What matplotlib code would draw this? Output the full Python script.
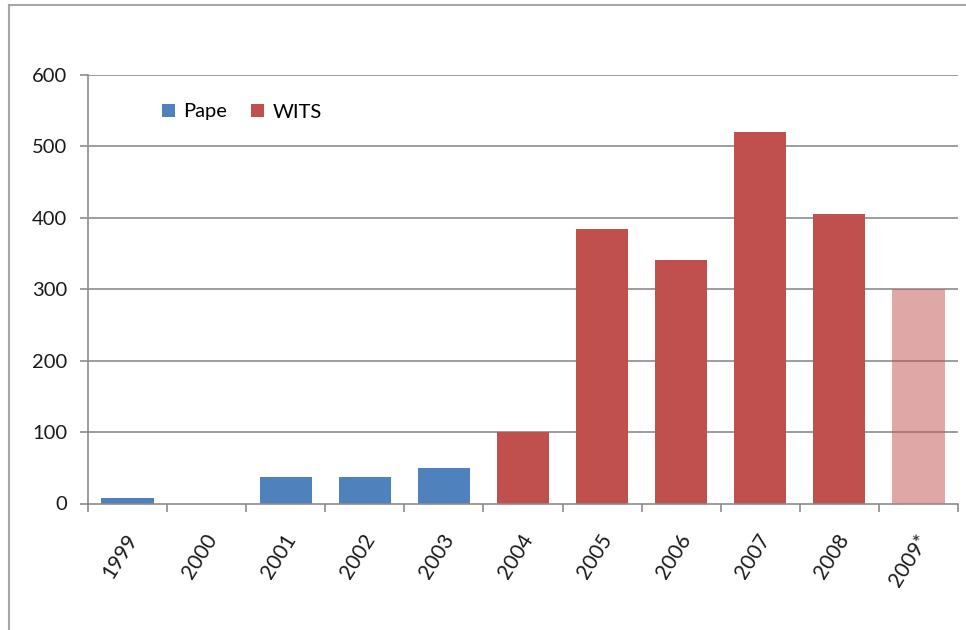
import matplotlib
matplotlib.use("Agg")
import matplotlib.pyplot as plt
import matplotlib.transforms as mtransforms
from matplotlib.patches import Patch
from matplotlib.lines import Line2D

plt.rcParams['font.family'] = ['Lato', 'DejaVu Sans']

years = ["1999", "2000", "2001", "2002", "2003", "2004", "2005", "2006", "2007", "2008", "2009*"]
pape = [8, 0, 37, 37, 50, 0, 0, 0, 0, 0, 0]
wits = [0, 0, 0, 0, 0, 100, 385, 341, 520, 405, 0]
wits_est = [0, 0, 0, 0, 0, 0, 0, 0, 0, 0, 300]
yticks = [0, 100, 200, 300, 400, 500, 600]

blue = "#4F81BD"
red = "#C0504D"
grid_c = "#8C8C8C"

fig = plt.figure(figsize=(9.66, 6.3), dpi=100)
ax = fig.add_axes([88/966, 1-503.5/630, (958-88)/966, (503.5-75)/630])

x = list(range(len(years)))
w = 0.66
ax.bar(x, pape, width=w, color=blue, zorder=2)
ax.bar(x, wits, width=w, color=red, zorder=2)
ax.bar(x, wits_est, width=w, color=red, alpha=0.5, zorder=2)

ax.set_xlim(-0.5, len(years)-0.5)
ax.set_ylim(0, 600)
ax.set_yticks(yticks)
ax.set_yticklabels([str(v) for v in yticks], fontsize=14.5, color="#1a1a1a")
for v in yticks[1:]:
    ax.axhline(v, color=grid_c, lw=1.2, zorder=1)

ax.set_xticks(x)
ax.set_xticklabels([""] * len(years))
offset = mtransforms.ScaledTranslation(-3/100, -27/100, fig.dpi_scale_trans)
for xi, lab in zip(x, years):
    ax.text(xi, 0, lab, transform=ax.get_xaxis_transform() + offset,
            rotation=58, ha='right', va='top', rotation_mode='anchor',
            fontsize=15, color="#1a1a1a")
ax.tick_params(axis='x', which='major', length=0)
ax.set_xticks([i + 0.5 for i in range(-1, len(years))], minor=True)
ax.tick_params(axis='x', which='minor', length=6, width=1.2, color=grid_c, direction='out')
ax.tick_params(axis='y', length=6, width=1.2, color=grid_c, direction='out', pad=9)

for s in ['top', 'right']:
    ax.spines[s].set_visible(False)
for s in ['left', 'bottom']:
    ax.spines[s].set_color(grid_c)
    ax.spines[s].set_linewidth(1.2)

handles = [Patch(facecolor=blue, edgecolor='none', label="Pape"),
           Patch(facecolor=red, edgecolor='none', label="WITS")]
fig.legend(handles=handles, loc='center left', bbox_to_anchor=(144/966, 1-112/630),
           ncol=2, frameon=False, fontsize=14.5, handlelength=0.65, handleheight=0.65,
           handletextpad=0.4, columnspacing=1.2)

# outer frame
fig.add_artist(Line2D([9/966, 9/966], [0, 1-5/630], transform=fig.transFigure,
                      color="#A6A6A6", lw=1.5))
fig.add_artist(Line2D([9/966, 1], [1-5/630, 1-5/630], transform=fig.transFigure,
                      color="#A6A6A6", lw=1.5))

fig.savefig("out.png", dpi=100)
